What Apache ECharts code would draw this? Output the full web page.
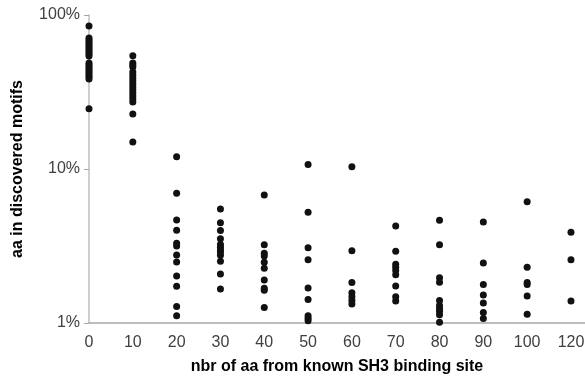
<!DOCTYPE html>
<html>
<head>
<meta charset="utf-8">
<script src="https://cdn.jsdelivr.net/npm/echarts@6/dist/echarts.min.js"></script>
<style>
	html, body { margin: 0; padding: 0; background: #fff; }
	#chart { width: 585px; height: 377px; }
</style>
</head>
<body>
<div id="chart"></div>
<script>
// tick labels of the x axis (categories, one column of dots each)
var xLabels = ['0', '10', '20', '30', '40', '50', '60', '70', '80', '90', '100', '120'];

// values in percent, one array per category
var col0 = [84.8, 70.9, 68.8, 66.8, 64.8, 62.9, 61.1, 59.3, 57.5, 55.8, 54.2, 48.8, 47.3, 45.9, 44.6, 43.3, 42.0, 40.8, 39.6, 38.4, 24.6];
var col10 = [54.4, 48.8, 47.3, 45.9, 42.6, 40.8, 39.0, 37.3, 35.6, 34.1, 32.6, 31.2, 29.8, 28.5, 27.2, 22.8, 15.0];
var col20 = [12.0, 6.95, 4.67, 4.00, 3.29, 3.16, 2.76, 2.49, 2.02, 1.73, 1.28, 1.115];
var col30 = [5.50, 4.48, 3.98, 3.53, 3.24, 3.10, 2.98, 2.89, 2.75, 2.52, 2.08, 1.66];
var col40 = [6.78, 3.22, 2.84, 2.72, 2.48, 2.27, 1.90, 1.68, 1.63, 1.26];
var col50 = [10.7, 5.23, 3.08, 2.57, 1.69, 1.42, 1.115, 1.073, 1.035];
var col60 = [10.35, 2.95, 1.83, 1.57, 1.48, 1.40, 1.33];
var col70 = [4.26, 2.92, 2.41, 2.30, 2.19, 2.06, 1.74, 1.48, 1.39];
var col80 = [4.64, 3.22, 1.97, 1.84, 1.40, 1.30, 1.24, 1.19, 1.13, 1.01];
var col90 = [4.53, 2.45, 1.78, 1.52, 1.35, 1.17, 1.07];
var col100 = [6.13, 2.30, 1.83, 1.78, 1.50, 1.14];
var col120 = [3.88, 2.57, 1.39];

var columns = [col0, col10, col20, col30, col40, col50, col60, col70, col80, col90, col100, col120];

var points = [];
for (var i = 0; i < columns.length; i++) {
	for (var j = 0; j < columns[i].length; j++) {
		points.push([i, columns[i][j]]);
	}
}

var font = '"Liberation Sans", Arial, sans-serif';
var chart = echarts.init(document.getElementById('chart'));

chart.setOption({
	animation: false,
	grid: {
		left: 89,
		right: 0,
		top: 15,
		bottom: 54,
		outerBoundsMode: 'none'
	},
	xAxis: {
		type: 'value',
		min: 0,
		max: 11.32,
		interval: 1,
		name: 'nbr of aa from known SH3 binding site',
		nameLocation: 'middle',
		nameGap: 36,
		nameTextStyle: { color: '#000', fontFamily: font, fontSize: 16, fontWeight: 'bold' },
		axisLine: { lineStyle: { color: '#a6a6a6', width: 1.5 } },
		axisTick: { show: false },
		splitLine: { show: false },
		axisLabel: {
			color: '#404040',
			fontFamily: font,
			fontSize: 16,
			margin: 12,
			showMaxLabel: false,
			formatter: function (v) {
				return Number.isInteger(v) && xLabels[v] !== undefined ? xLabels[v] : '';
			}
		}
	},
	yAxis: {
		type: 'log',
		logBase: 10,
		min: 1,
		max: 100,
		name: 'aa in discovered motifs',
		nameLocation: 'middle',
		nameGap: 63,
		nameTextStyle: { color: '#000', fontFamily: font, fontSize: 16, fontWeight: 'bold' },
		axisLine: { show: true, lineStyle: { color: '#bfbfbf', width: 1.5 } },
		axisTick: { show: true, length: 5, lineStyle: { color: '#a6a6a6' } },
		splitLine: { show: false },
		axisLabel: {
			color: '#404040',
			fontFamily: font,
			fontSize: 16,
			margin: 9,
			formatter: '{value}%'
		}
	},
	series: [{
		type: 'scatter',
		symbol: 'circle',
		symbolSize: 7,
		itemStyle: { color: '#111', opacity: 1 },
		data: points
	}]
});
</script>
</body>
</html>
